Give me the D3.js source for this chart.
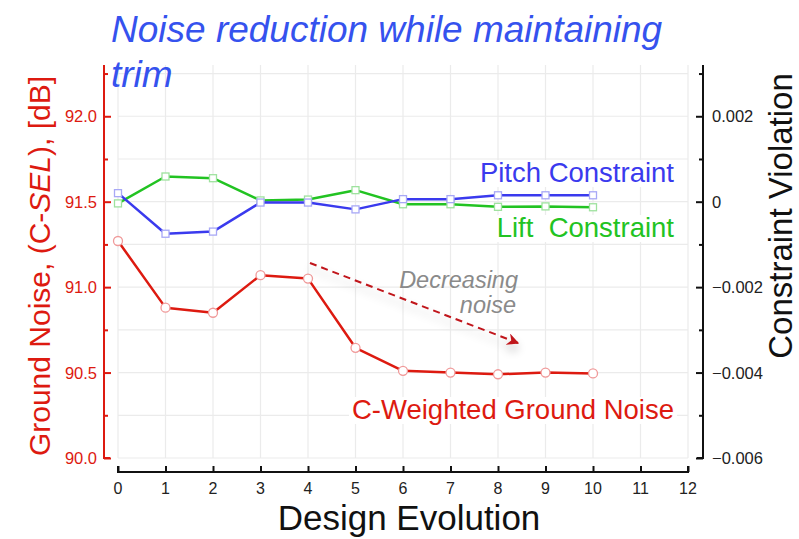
<!DOCTYPE html>
<html>
<head>
<meta charset="utf-8">
<script src="https://cdn.jsdelivr.net/npm/d3@7"></script>
<style>
  body { margin: 0; background: #fff; }
  svg { font-family: "Liberation Sans", Arial, sans-serif; }
</style>
</head>
<body>
<div id="chart"></div>
<script>
"use strict";

// design iterations
var designSteps = [0, 1, 2, 3, 4, 5, 6, 7, 8, 9, 10];
// C-weighted ground noise, dB (left axis)
var groundNoise = [91.27, 90.88, 90.85, 91.07, 91.05, 90.645, 90.51, 90.50, 90.49, 90.50, 90.495];
// constraint violations (right axis)
var pitchConstraint = [0.0002, -0.00075, -0.0007, -0.00002, -0.00002, -0.00018, 0.00006, 0.00006, 0.00015, 0.00015, 0.00015];
var liftConstraint = [-0.00004, 0.00059, 0.00055, 0.00003, 0.00005, 0.00027, -0.00006, -0.00006, -0.00012, -0.00011, -0.00013];

var xTicks = d3.range(0, 13);
var leftTicks = [90.0, 90.5, 91.0, 91.5, 92.0];
var rightTicks = [-0.006, -0.004, -0.002, 0, 0.002];

var width = 799, height = 539;

var svg = d3.select("#chart").append("svg")
    .attr("width", width)
    .attr("height", height);

//scales
var x = d3.scaleLinear().domain([0, 12]).range([118, 688]);
var yLeft = d3.scaleLinear().domain([90, 92.3]).range([458, 65]);
var yRight = d3.scaleLinear().domain([-0.006, 0.0032]).range([458, 65]);

var red = "#dd1a10", blue = "#3a3aee", green = "#22c322";

// ---------- grid
var grid = svg.append("g").attr("stroke", "#ebebeb").attr("stroke-width", 1.2);
grid.selectAll("line.v")
    .data(xTicks)
    .enter().append("line")
    .attr("x1", function (d) { return x(d); })
    .attr("x2", function (d) { return x(d); })
    .attr("y1", 65).attr("y2", 458);
grid.selectAll("line.h")
    .data(d3.range(90, 92.3, 0.25))
    .enter().append("line")
    .attr("x1", x(0)).attr("x2", x(12))
    .attr("y1", function (d) { return yLeft(d); })
    .attr("y2", function (d) { return yLeft(d); });

// ---------- axes
var xAxis = svg.append("g")
    .attr("transform", "translate(0,472)")
    .call(d3.axisTop(x).tickValues(xTicks).tickSize(6).tickFormat(""));
xAxis.select(".domain").attr("d", "M" + x(0) + ",-6V0H" + x(12) + "V-6");
xAxis.selectAll("line, path").attr("stroke", "#111").attr("stroke-width", 2);
svg.append("g").selectAll("text")
    .data(xTicks)
    .enter().append("text")
    .attr("x", function (d) { return x(d); })
    .attr("y", 494)
    .attr("text-anchor", "middle")
    .attr("font-size", 16)
    .attr("fill", "#222")
    .text(function (d) { return d; });

var leftAxis = svg.append("g")
    .attr("transform", "translate(104,0)")
    .call(d3.axisRight(yLeft).tickValues(d3.range(90, 92.3, 0.25)).tickSize(5).tickFormat(""));
leftAxis.select(".domain").attr("d", "M0,65V458H6");
leftAxis.selectAll("line, path").attr("stroke", red).attr("stroke-width", 2);
leftAxis.selectAll(".tick line").attr("x2", function (d) { return (d * 2) % 1 === 0 ? 7 : 4; });
svg.append("g").selectAll("text")
    .data(leftTicks)
    .enter().append("text")
    .attr("x", 97)
    .attr("y", function (d) { return yLeft(d) + 6; })
    .attr("text-anchor", "end")
    .attr("font-size", 16.5)
    .attr("fill", red)
    .text(function (d) { return d.toFixed(1); });

var rightAxis = svg.append("g")
    .attr("transform", "translate(703,0)")
    .call(d3.axisLeft(yRight).tickValues(d3.range(-0.006, 0.0031, 0.001)).tickSize(5).tickFormat(""));
rightAxis.select(".domain").attr("d", "M0,65V458H-6");
rightAxis.selectAll("line, path").attr("stroke", "#111").attr("stroke-width", 2);
rightAxis.selectAll(".tick line").attr("x2", function (d) {
    return Math.abs(Math.round(d * 1000)) % 2 === 0 ? -7 : -4;
});
svg.append("g").selectAll("text")
    .data(rightTicks)
    .enter().append("text")
    .attr("x", 712)
    .attr("y", function (d) { return yRight(d) + 6; })
    .attr("font-size", 16.5)
    .attr("fill", "#222")
    .text(function (d) { return d === 0 ? "0" : d3.format(".3f")(d); });

// ---------- series lines
function drawSeries(values, yScale, color, shape) {
    var pts = designSteps.map(function (d, i) { return [x(d), yScale(values[i])]; });
    svg.append("path")
        .attr("d", d3.line()(pts))
        .attr("fill", "none")
        .attr("stroke", color)
        .attr("stroke-width", 2.5)
        .attr("stroke-linejoin", "round");
    var g = svg.append("g");
    if (shape === "circle") {
        g.selectAll("circle").data(pts).enter().append("circle")
            .attr("cx", function (p) { return p[0]; })
            .attr("cy", function (p) { return p[1]; })
            .attr("r", 4.5)
            .attr("fill", "#fff")
            .attr("stroke", "#f09a9a")
            .attr("stroke-width", 1.3);
    } else {
        g.selectAll("rect").data(pts).enter().append("rect")
            .attr("x", function (p) { return p[0] - 3.5; })
            .attr("y", function (p) { return p[1] - 3.5; })
            .attr("width", 7).attr("height", 7)
            .attr("fill", "#fff")
            .attr("stroke", color === blue ? "#a8a8f6" : "#9ee29e")
            .attr("stroke-width", 1.3);
    }
}
drawSeries(liftConstraint, yRight, green, "square");
drawSeries(pitchConstraint, yRight, blue, "square");
drawSeries(groundNoise, yLeft, red, "circle");

// ---------- series labels (white boxes behind)
function label(txt, xr, y, color) {
    var t = svg.append("text")
        .attr("x", xr).attr("y", y)
        .attr("text-anchor", "end")
        .attr("font-size", 27.5)
        .attr("fill", color)
        .attr("xml:space", "preserve")
        .text(txt);
    var b = t.node().getBBox();
    svg.insert("rect", function () { return t.node(); })
        .attr("x", b.x - 3).attr("y", b.y + 3)
        .attr("width", b.width + 6).attr("height", b.height - 4)
        .attr("fill", "#fff");
}
label("Pitch Constraint", 674, 182, blue);
label("Lift  Constraint", 674, 237, green);
label("C-Weighted Ground Noise", 674, 419, red);

// ---------- annotation arrow
var defs = svg.append("defs");
defs.append("marker")
    .attr("id", "head")
    .attr("viewBox", "0 0 10 10")
    .attr("refX", 9).attr("refY", 5)
    .attr("markerWidth", 6).attr("markerHeight", 6)
    .attr("orient", "auto")
    .append("path")
    .attr("d", "M0,0L10,5L0,10L3,5Z")
    .attr("fill", "#c0141a");
var shadow = defs.append("filter").attr("id", "shadow").attr("x", "-20%").attr("y", "-50%")
    .attr("width", "140%").attr("height", "200%");
shadow.append("feGaussianBlur").attr("in", "SourceAlpha").attr("stdDeviation", 5);
shadow.append("feOffset").attr("dx", 0).attr("dy", 6).attr("result", "b");
shadow.append("feComponentTransfer").append("feFuncA").attr("type", "linear").attr("slope", 0.25);
var merge = shadow.append("feMerge");
merge.append("feMergeNode");
merge.append("feMergeNode").attr("in", "SourceGraphic");

svg.append("line")
    .attr("x1", 310).attr("y1", 263)
    .attr("x2", 518).attr("y2", 343)
    .attr("stroke", "#c0141a")
    .attr("stroke-width", 2)
    .attr("stroke-dasharray", "7,5")
    .attr("marker-end", "url(#head)")
    .attr("filter", "url(#shadow)");

var note = svg.append("text")
    .attr("text-anchor", "end")
    .attr("font-size", 23.5)
    .attr("font-style", "italic")
    .attr("fill", "#8a8a8a");
note.append("tspan").attr("x", 518).attr("y", 288).text("Decreasing");
note.append("tspan").attr("x", 516).attr("y", 313).text("noise");

// ---------- titles
var title = svg.append("text")
    .attr("font-size", 37)
    .attr("font-style", "italic")
    .attr("fill", "#3552ee");
title.append("tspan").attr("x", 111).attr("y", 42).text("Noise reduction while maintaining");
title.append("tspan").attr("x", 111).attr("y", 87).text("trim");

var yl = svg.append("text")
    .attr("transform", "translate(50,266) rotate(-90)")
    .attr("text-anchor", "middle")
    .attr("font-size", 30)
    .attr("fill", red);
yl.append("tspan").text("Ground Noise, (C-");
yl.append("tspan").attr("font-style", "italic").text("SEL");
yl.append("tspan").text("), [dB]");

svg.append("text")
    .attr("transform", "translate(792,216) rotate(-90)")
    .attr("text-anchor", "middle")
    .attr("font-size", 33)
    .attr("fill", "#111")
    .text("Constraint Violation");

svg.append("text")
    .attr("x", 409).attr("y", 530)
    .attr("text-anchor", "middle")
    .attr("font-size", 35)
    .attr("fill", "#111")
    .text("Design Evolution");
</script>
</body>
</html>
